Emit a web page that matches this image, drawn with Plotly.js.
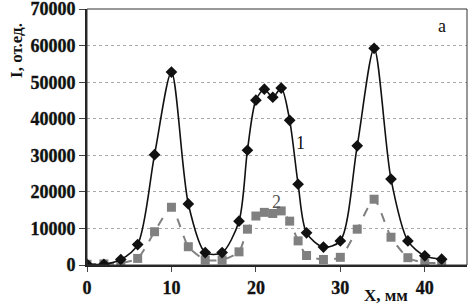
<!DOCTYPE html>
<html><head><meta charset="utf-8">
<script src="https://cdn.plot.ly/plotly-3.0.1.min.js"></script>
<style>html,body{margin:0;padding:0;background:#fff}#chart{width:475px;height:306px}
.xtick text,.ytick text,.annotation-text.boldish{stroke:#111;stroke-width:0.35px}</style>
</head><body><div id="chart"></div>
<script>
const xValues = [0,2,4,6,8,10,12,14,16,18,19,20,21,22,23,24,25,26,28,30,32,34,36,38,40,42];
const series1 = [200,200,1500,5600,30200,52800,16700,3400,3400,12000,31400,45100,48100,45900,48400,39600,22100,8800,4900,6600,32600,59300,23500,6600,2500,1600];
const series2 = [200,300,500,1800,9100,15800,5000,1400,1400,3600,9800,13400,14400,14100,14800,12000,6600,2600,1500,2100,9800,18000,7600,2000,600,600];
const xTicks = [0,10,20,30,40];
const yTicks = [0,10000,20000,30000,40000,50000,60000,70000];

const serif = 'Liberation Serif, Times New Roman, serif';
const traces = [
  {x:xValues, y:series2, mode:'lines+markers', line:{color:'#808080', width:2, dash:'dash', shape:'spline', smoothing:0.6},
   marker:{symbol:'square', size:9, color:'#808080'}, hoverinfo:'none'},
  {x:xValues, y:series1, mode:'lines+markers', line:{color:'#111', width:1.6, shape:'spline', smoothing:0.8},
   marker:{symbol:'diamond', size:9, color:'#111'}, hoverinfo:'none'}
];
const layout = {
  width:475, height:306, showlegend:false,
  margin:{l:87, r:8, t:9, b:41},
  paper_bgcolor:'#fff', plot_bgcolor:'#fff',
  font:{family:serif, color:'#111'},
  xaxis:{range:[0,45], tickvals:xTicks, ticktext:xTicks.map(v=>'<b>'+v+'</b>'), showgrid:false, zeroline:false,
    showline:true, linecolor:'#222', linewidth:2, ticks:'outside', ticklen:5, tickwidth:1, tickcolor:'#444',
    ticklabeloverflow:'allow', tickfont:{family:serif, size:18, color:'#111'}},
  yaxis:{range:[0,70050], tickvals:yTicks, ticktext:yTicks.map(v=>'<b>'+v+'</b>'), showgrid:true, gridcolor:'#aaa', griddash:'dot', gridwidth:1,
    zeroline:false, showline:true, linecolor:'#222', linewidth:2, ticks:'outside', ticklen:6, tickwidth:1, tickcolor:'#444',
    ticklabeloverflow:'allow', tickfont:{family:serif, size:18, color:'#111'}},
  shapes:[{type:'rect', xref:'paper', yref:'paper', x0:0, x1:1, y0:0, y1:1, line:{color:'#333', width:1}}],
  annotations:[
    {text:'<b>I, от.ед.</b>', xref:'paper', yref:'paper', x:-0.187, y:0.955, xanchor:'center', yanchor:'top', textangle:-90, showarrow:false,
     font:{family:serif, size:17, color:'#111'}},
    {text:'<b>X, мм</b>', xref:'paper', yref:'paper', x:0.788, y:-0.121, xanchor:'center', yanchor:'middle', showarrow:false,
     font:{family:serif, size:17, color:'#111'}},
    {text:'a', xref:'paper', yref:'paper', x:0.935, y:0.935, xanchor:'center', yanchor:'middle', showarrow:false,
     font:{family:serif, size:18, color:'#111'}},
    {text:'1', x:25.3, y:33300, xanchor:'center', yanchor:'middle', showarrow:false,
     font:{family:serif, size:18, color:'#111'}},
    {text:'2', x:22.4, y:17300, xanchor:'center', yanchor:'middle', showarrow:false,
     font:{family:serif, size:18, color:'#555'}}
  ]
};
Plotly.newPlot('chart', traces, layout, {staticPlot:true, displayModeBar:false});
</script></body></html>
